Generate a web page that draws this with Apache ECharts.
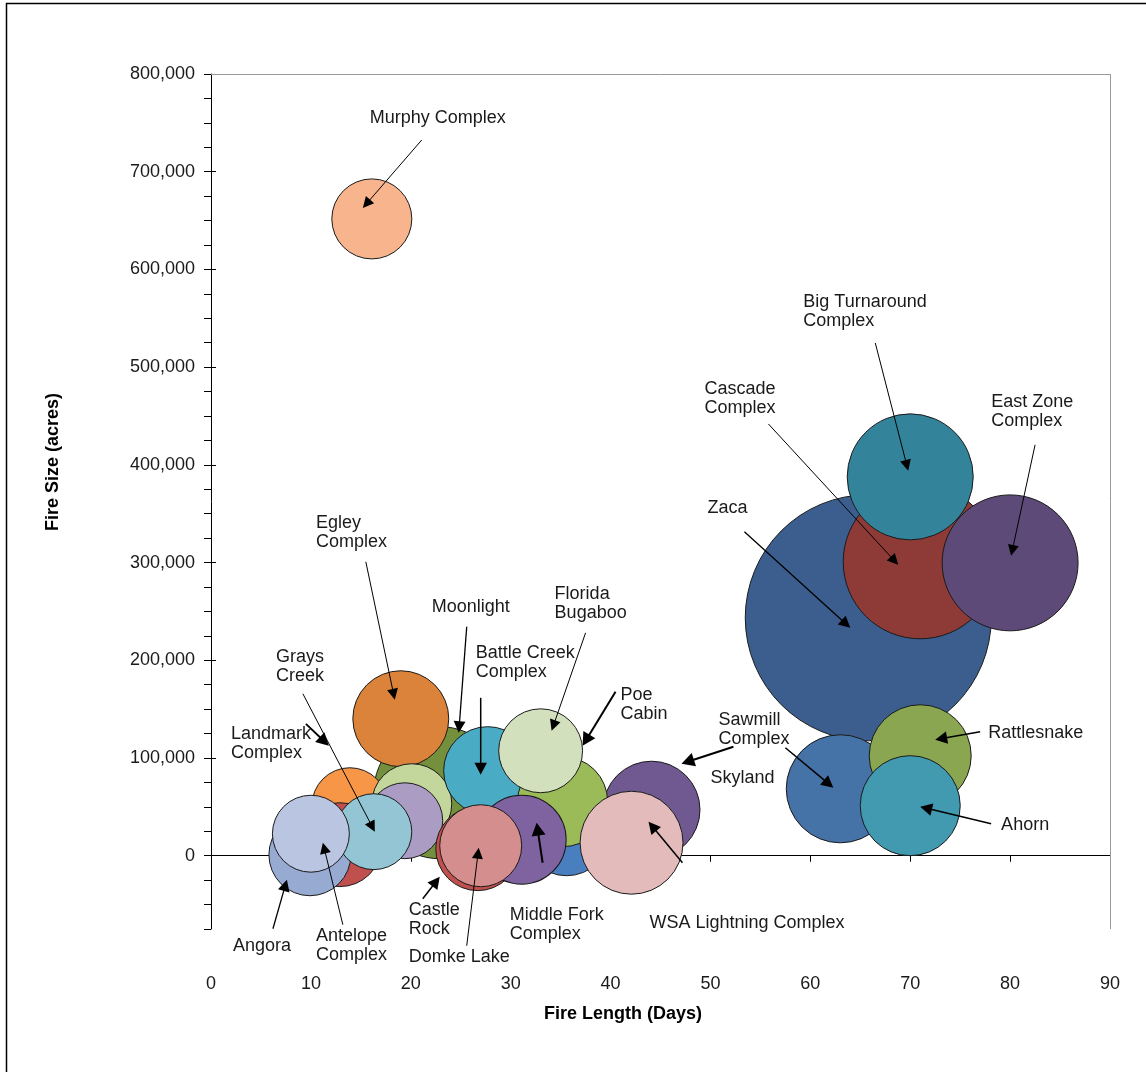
<!DOCTYPE html>
<html><head><meta charset="utf-8">
<script src="https://cdn.jsdelivr.net/npm/echarts@6/dist/echarts.min.js"></script>
<style>html,body{margin:0;padding:0;background:#fff;overflow:hidden}#c{width:1146px;height:1072px}</style>
</head><body><div id="c"></div><script>
// ---- data (draw order: first = bottom) ----
const fireNames = ['Zaca','Cascade Complex','East Zone Complex','Big Turnaround Complex','Sawmill Complex','Rattlesnake','Ahorn','Murphy Complex','Moonlight','Egley Complex','Landmark Complex','Unlabeled A','Angora','Unlabeled B','Unlabeled C','Grays Creek','Antelope Complex','Battle Creek Complex','Castle Rock','Skyland','Unlabeled D','Poe Cabin','Florida Bugaboo','Middle Fork Complex','Domke Lake','WSA Lightning Complex'];
const fireDays = [65.8, 71.0, 80.0, 70.0, 63.0, 71.0, 70.0, 16.1, 22.9, 19.0, 13.9, 12.9, 9.9, 20.1, 19.4, 16.3, 10.0, 27.7, 26.7, 44.1, 35.6, 35.2, 33.0, 31.1, 27.0, 42.1];
const fireAcres = [243500, 300800, 299700, 387700, 68500, 102300, 51200, 651700, 64500, 140200, 51200, 11300, 1000, 53200, 35800, 24600, 22500, 87000, 7200, 47100, 24600, 55300, 107400, 16400, 10200, 13300];
const bubbleSizes = [151.3, 59.3, 46.2, 39.7, 29.2, 26.0, 25.0, 16.0, 43.6, 23.0, 14.4, 17.6, 16.8, 16.0, 14.4, 14.4, 14.8, 19.4, 17.6, 23.5, 19.4, 20.3, 17.6, 19.8, 16.8, 26.5];
const xTicks = [0,10,20,30,40,50,60,70,80,90];
const yTicks = [0,100000,200000,300000,400000,500000,600000,700000,800000];

// ---- styles ----
const fireColors = ['#3B5E8E','#8E3A37','#5E4A78','#33849A','#4572A7','#8AA650','#419AB0','#F8B48D','#74903C','#DB833B','#F79646','#C0504D','#97AAD2','#C3D69B','#AA9CC2','#93C5D4','#BAC6E1','#4AABC5','#C0504D','#6F5990','#4A7FBF','#9BBB59','#D3E0BD','#7F62A0','#D48E8D','#E3BBBA'];
const FONT = '"Liberation Sans", Arial, sans-serif';

// ---- annotations (data coordinates) ----
const annoText = ['Murphy Complex','Big Turnaround\nComplex','Cascade\nComplex','East Zone\nComplex','Zaca','Sawmill\nComplex','Skyland','Rattlesnake','Ahorn','Egley\nComplex','Moonlight','Battle Creek\nComplex','Florida\nBugaboo','Poe\nCabin','Grays\nCreek','Landmark\nComplex','Angora','Antelope\nComplex','Castle\nRock','Domke Lake','Middle Fork\nComplex','WSA Lightning Complex'];
const annoPos = [[15.9,764200],[59.3,575900],[49.4,487000],[78.1,473600],[49.7,365200],[50.8,148300],[50.0,89000],[77.8,135000],[79.1,40900],[10.5,349900],[22.1,263900],[26.5,216900],[34.4,277200],[41.0,173900],[6.5,212800],[2.0,134000],[2.2,-82900],[10.5,-72600],[19.8,-46000],[19.8,-94100],[29.9,-51200],[43.9,-59300]];
const arrowFrom = [[21.1,732500],[66.5,524800],[55.8,441900],[82.5,420500],[53.4,331500],[57.5,110500],[52.3,111500],[77.0,126900],[78.1,32700],[15.5,300800],[25.6,234300],[27.0,161600],[37.5,228100],[40.5,167800],[9.2,165700],[9.5,135000],[6.2,-74700],[13.2,-70600],[21.2,-44000],[25.6,-92100],[33.2,-7200],[47.2,-7200]];
const arrowTo = [[15.2,662900],[69.8,393900],[68.8,297700],[80.1,306900],[64.0,233200],[62.3,69600],[47.1,94100],[72.5,118700],[71.0,50100],[18.4,159600],[24.8,125800],[27.0,82900],[34.1,127900],[37.2,112500],[16.4,24600],[11.8,112500],[7.6,-24600],[11.2,13300],[22.9,-21500],[26.8,8200],[32.6,33800],[43.8,34800]];
const arrowWidth = [1,1,1,1,1.3,1.5,2,1.5,1.5,1,1.3,1.5,1,2,1,1.8,1.3,1,1.5,1,2,1.5];

const GRID = {left:211, top:74, width:899, height:855};

const bubbleData = fireNames.map((n,i)=>({name:n, value:[fireDays[i], fireAcres[i], bubbleSizes[i]], itemStyle:{color:fireColors[i]}}));

const chart = echarts.init(document.getElementById('c'), null, {renderer:'canvas'});
const option = {
  animation:false,
  backgroundColor:'#fff',
  grid:{left:GRID.left, top:GRID.top, width:GRID.width, height:GRID.height, containLabel:false},
  xAxis:[{
    type:'value', min:0, max:90, interval:10, position:'bottom',
    axisLine:{show:true, onZero:true, lineStyle:{color:'#000', width:1}},
    axisTick:{show:true, length:6, lineStyle:{color:'#000', width:1}},
    axisLabel:{margin:46, fontSize:18, fontFamily:FONT, color:'#1a1a1a',
      formatter:v=> xTicks.indexOf(v)>=0 ? String(v) : ''},
    splitLine:{show:false}
  }],
  yAxis:[{
    type:'value', min:-75000, max:800000, interval:25000, position:'left',
    axisLine:{show:true, onZero:false, lineStyle:{color:'#000', width:1}},
    axisTick:{show:true, length:7, lineStyle:{color:'#000', width:1}},
    axisLabel:{margin:16, fontSize:18, fontFamily:FONT, color:'#1a1a1a',
      formatter:v=> yTicks.indexOf(v)>=0 ? v.toLocaleString('en-US') : ''},
    splitLine:{show:false}
  },{
    type:'value', min:-75000, max:800000, position:'right', offset:-GRID.width,
    axisLine:{show:false, onZero:false},
    axisTick:{show:true, length:5, customValues:yTicks, lineStyle:{color:'#000', width:1}},
    axisLabel:{show:false},
    splitLine:{show:false}
  }],
  series:[{
    type:'scatter', clip:false, silent:true,
    symbolSize:val=>20*Math.sqrt(val[2]),
    itemStyle:{borderColor:'#1a1a1a', borderWidth:1, opacity:1},
    data:bubbleData, z:2
  }],
  graphic:[
    {type:'line', shape:{x1:GRID.left, y1:GRID.top+0.5, x2:GRID.left+GRID.width, y2:GRID.top+0.5}, style:{stroke:'#9a9a9a', lineWidth:1}, z:1},
    {type:'line', shape:{x1:GRID.left+GRID.width+0.5, y1:GRID.top, x2:GRID.left+GRID.width+0.5, y2:GRID.top+GRID.height}, style:{stroke:'#9a9a9a', lineWidth:1}, z:1},
    {type:'rect', shape:{x:6.5, y:3.5, width:1300, height:1300}, style:{fill:null, stroke:'#000', lineWidth:1.5}, z:1},
    {type:'text', x:53, y:462, rotation:Math.PI/2, style:{text:'Fire Size (acres)', font:'bold 18px '+FONT, fill:'#000', align:'center', verticalAlign:'middle', textAlign:'center', textVerticalAlign:'middle'}, z:5},
    {type:'text', x:623, y:1014, style:{text:'Fire Length (Days)', font:'bold 18px '+FONT, fill:'#000', align:'center', verticalAlign:'middle', textAlign:'center', textVerticalAlign:'middle'}, z:5}
  ]
};
chart.setOption(option);

// annotation labels and arrows placed through the chart's own scales
const toPx = p => chart.convertToPixel({xAxisIndex:0, yAxisIndex:0}, p);
const extra = option.graphic.slice();
annoText.forEach((t,i)=>{
  const p = toPx(annoPos[i]);
  extra.push({type:'text', x:p[0], y:p[1], z:20, style:{text:t, font:'18px '+FONT, fill:'#1a1a1a', lineHeight:19, align:'left', verticalAlign:'top', textAlign:'left', textVerticalAlign:'top'}});
  const a = toPx(arrowFrom[i]), b = toPx(arrowTo[i]);
  const w = arrowWidth[i];
  const dx = b[0]-a[0], dy = b[1]-a[1], L = Math.hypot(dx,dy);
  const ux = dx/L, uy = dy/L;
  const hl = 9 + 2*w, hw = 4 + 1.5*w;
  const bx = b[0]-ux*hl, by = b[1]-uy*hl;
  extra.push({type:'line', z:20, shape:{x1:a[0], y1:a[1], x2:bx+ux*1, y2:by+uy*1}, style:{stroke:'#000', lineWidth:w}});
  extra.push({type:'polygon', z:20, shape:{points:[[b[0],b[1]],[bx-uy*hw, by+ux*hw],[bx+uy*hw, by-ux*hw]]}, style:{fill:'#000'}});
});
chart.setOption({graphic:extra}, {replaceMerge:['graphic']});
</script></body></html>
